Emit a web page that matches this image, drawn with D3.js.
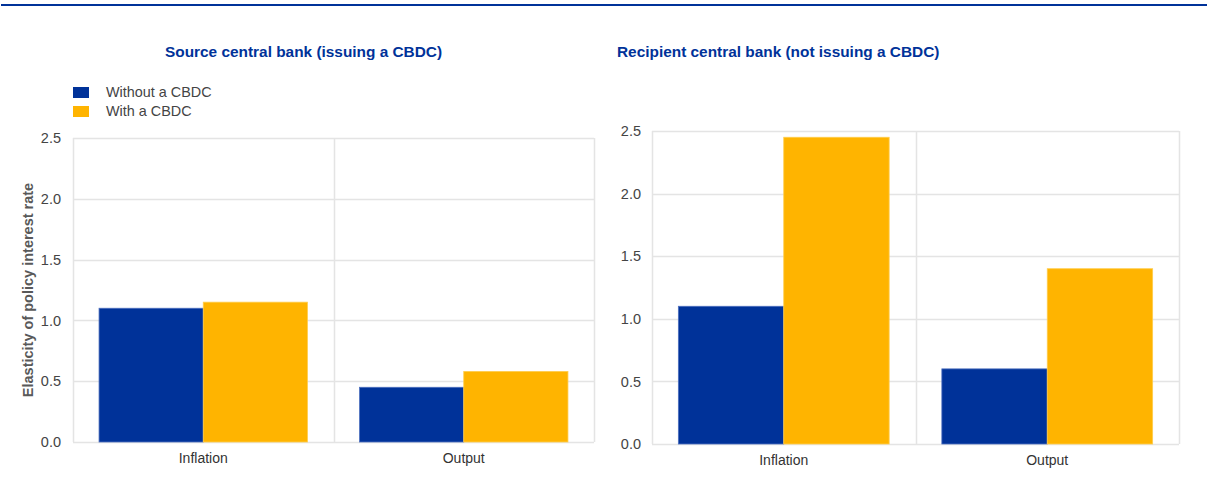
<!DOCTYPE html>
<html>
<head>
<meta charset="utf-8">
<script src="https://cdn.jsdelivr.net/npm/d3@7"></script>
<style>
  body { margin: 0; background: #fff; }
  svg text { font-family: "Liberation Sans", Arial, sans-serif; }
</style>
</head>
<body>
<svg id="chart" width="1207" height="504"></svg>
<script>
var categories = ["Inflation", "Output"];
var seriesNames = ["Without a CBDC", "With a CBDC"];
var yTicks = [0, 0.5, 1.0, 1.5, 2.0, 2.5];

// source central bank (issuing a CBDC)
var sourceWithout = [1.10, 0.45];
var sourceWith = [1.15, 0.58];

// recipient central bank (not issuing a CBDC)
var recipientWithout = [1.10, 0.60];
var recipientWith = [2.45, 1.40];

var COLORS = ["#003299", "#ffb400"];
var EDGES = ["#4d6fbf", "#ffcd4d"];
var GRID = "#e4e4e4";

var svg = d3.select("#chart");

// top rule
svg.append("line")
  .attr("x1", 1).attr("x2", 1207)
  .attr("y1", 5).attr("y2", 5)
  .attr("stroke", "#003299").attr("stroke-width", 2);

function drawPanel(opts) {
  var x = d3.scaleBand().domain(categories).range([opts.left, opts.right]);
  var xs = d3.scaleBand().domain(seriesNames).range([0, x.bandwidth()]).paddingOuter(0.25);
  var y = d3.scaleLinear().domain([0, 2.5]).range([opts.bottom, opts.top]);

  var g = svg.append("g");

  // horizontal grid
  g.selectAll(".hgrid").data(yTicks).enter().append("line")
    .attr("x1", opts.left).attr("x2", opts.right)
    .attr("y1", function(d) { return Math.round(y(d)) + 0.5; })
    .attr("y2", function(d) { return Math.round(y(d)) + 0.5; })
    .attr("stroke", GRID).attr("stroke-width", 1.5);

  // vertical lines: plot edges and category divider
  var vx = [opts.left, x(categories[1]), opts.right];
  g.selectAll(".vgrid").data(vx).enter().append("line")
    .attr("x1", function(d) { return Math.round(d) + 0.5; })
    .attr("x2", function(d) { return Math.round(d) + 0.5; })
    .attr("y1", opts.top).attr("y2", opts.bottom)
    .attr("stroke", GRID).attr("stroke-width", 1.5);

  // bars
  var rows = [];
  categories.forEach(function(c, i) {
    rows.push({ cat: c, s: 0, v: opts.without[i] });
    rows.push({ cat: c, s: 1, v: opts.with[i] });
  });
  g.selectAll(".bar").data(rows).enter().append("rect")
    .attr("x", function(d) { return x(d.cat) + xs(seriesNames[d.s]); })
    .attr("width", xs.bandwidth())
    .attr("y", function(d) { return y(d.v); })
    .attr("height", function(d) { return y(0) - y(d.v); })
    .attr("fill", function(d) { return COLORS[d.s]; })
    .attr("stroke", function(d) { return EDGES[d.s]; })
    .attr("stroke-width", 0.8);

  // y axis labels
  var yAxis = d3.axisLeft(y).tickValues(yTicks).tickFormat(d3.format(".1f")).tickSize(0).tickPadding(opts.tickPad);
  var ya = g.append("g").attr("transform", "translate(" + opts.left + ",0)").call(yAxis);
  ya.select(".domain").remove();
  ya.selectAll("text").attr("font-size", 14.5).attr("fill", "#444")
    .attr("font-family", "Liberation Sans, Arial, sans-serif");

  // x axis labels
  var xAxis = d3.axisBottom(x).tickSize(0).tickPadding(opts.xPad);
  var xa = g.append("g").attr("transform", "translate(0," + opts.bottom + ")").call(xAxis);
  xa.select(".domain").remove();
  xa.selectAll("text").attr("font-size", 14).attr("fill", "#333")
    .attr("font-family", "Liberation Sans, Arial, sans-serif");

  // title
  svg.append("text")
    .attr("x", opts.titleX).attr("y", 57)
    .attr("font-size", 15.4).attr("font-weight", "bold")
    .attr("fill", "#003299")
    .text(opts.title);
}

drawPanel({
  left: 73, right: 594, top: 138, bottom: 442,
  tickPad: 12, xPad: 11,
  without: sourceWithout, with: sourceWith,
  title: "Source central bank (issuing a CBDC)", titleX: 165
});

drawPanel({
  left: 652, right: 1179, top: 131, bottom: 444,
  tickPad: 11, xPad: 11,
  without: recipientWithout, with: recipientWith,
  title: "Recipient central bank (not issuing a CBDC)", titleX: 617
});

// legend
var legend = svg.append("g");
seriesNames.forEach(function(name, i) {
  legend.append("rect")
    .attr("x", 73).attr("y", 87 + i * 19)
    .attr("width", 16).attr("height", 11)
    .attr("fill", COLORS[i]);
  legend.append("text")
    .attr("x", 106).attr("y", 97 + i * 19)
    .attr("font-size", 14.4).attr("fill", "#444")
    .text(name);
});

// y axis title
svg.append("text")
  .attr("transform", "translate(33,290) rotate(-90)")
  .attr("text-anchor", "middle")
  .attr("font-size", 14.5).attr("font-weight", "bold")
  .attr("fill", "#595959")
  .text("Elasticity of policy interest rate");
</script>
</body>
</html>
